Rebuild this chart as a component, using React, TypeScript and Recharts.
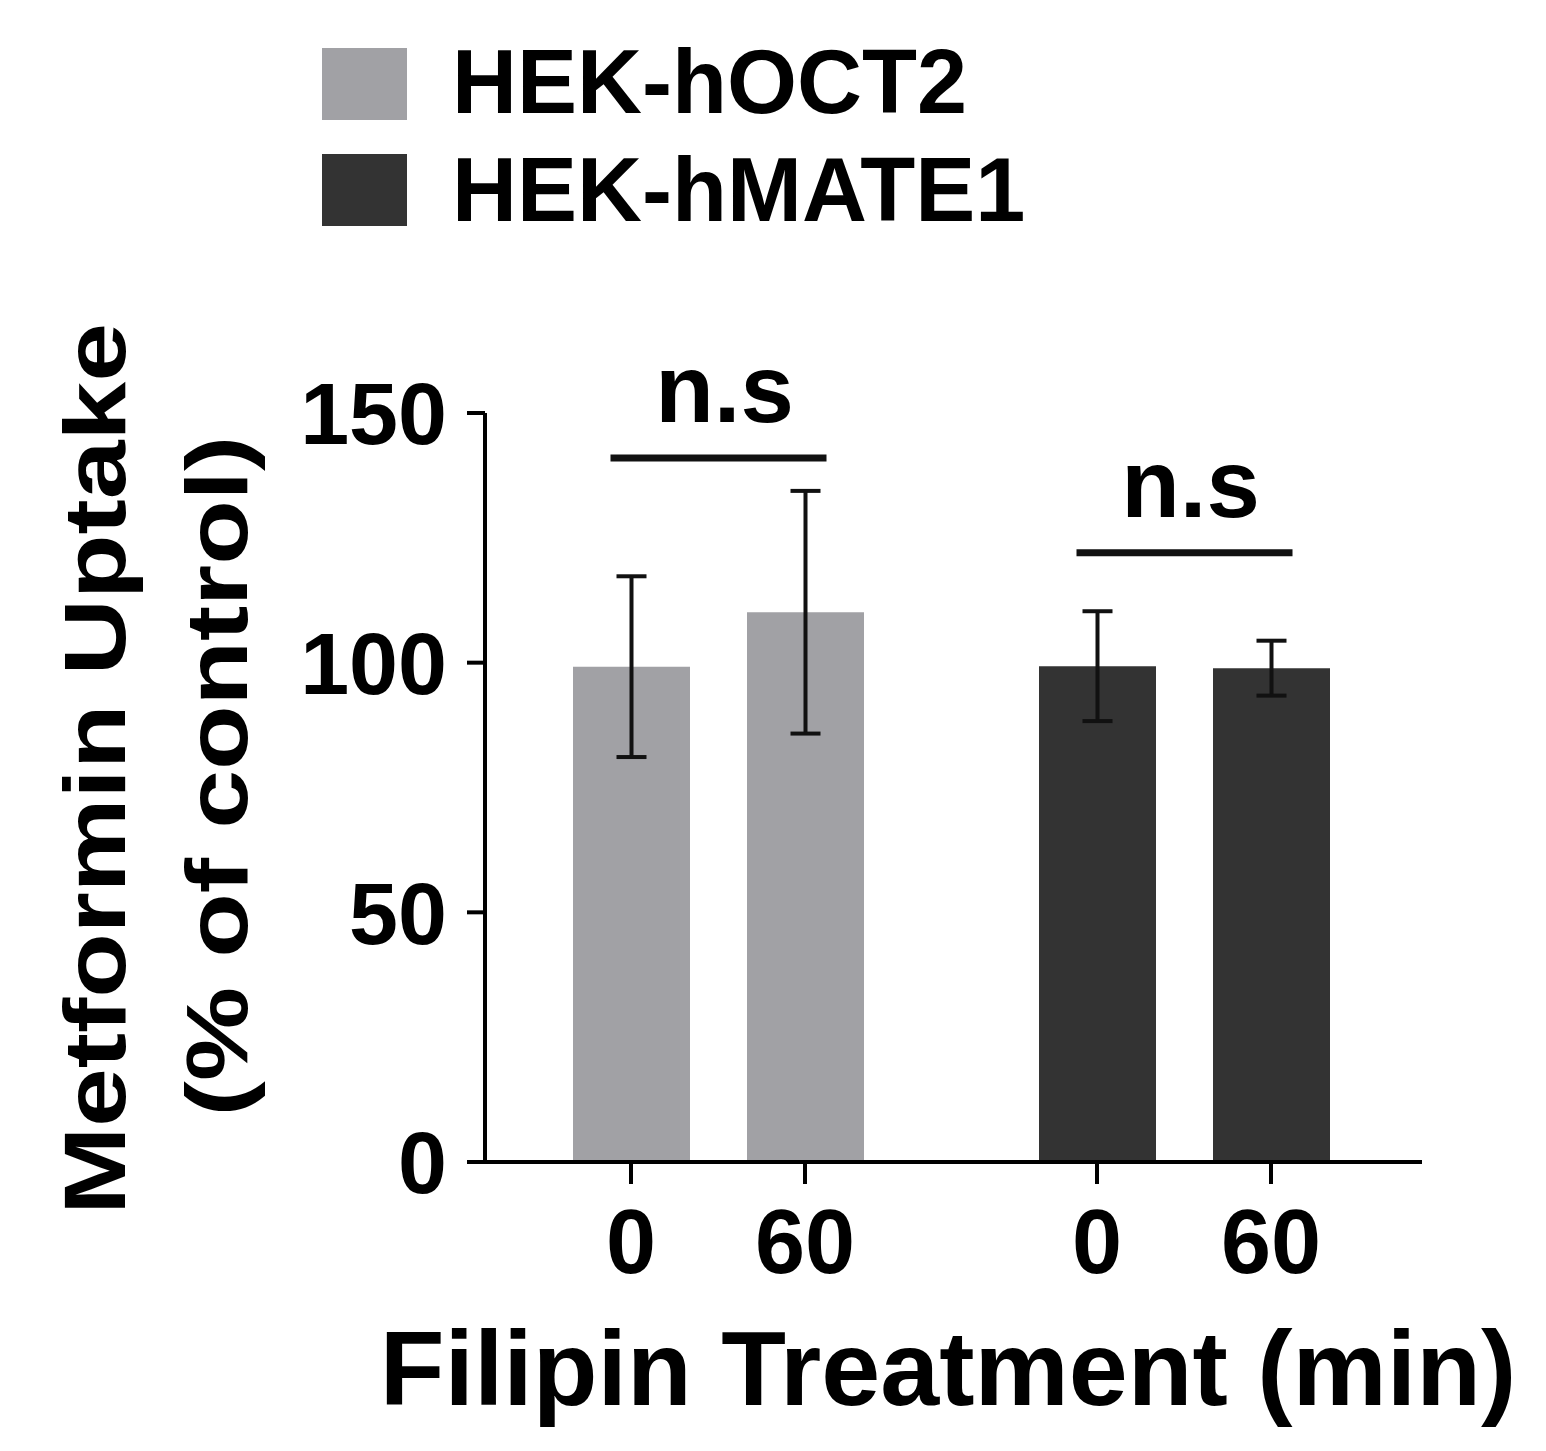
import React from 'react';
import { BarChart, Bar, XAxis, YAxis, ErrorBar, Cell, Legend } from 'recharts';

// cell lines (groups) and filipin time points (series)
const cellLines = ['HEK-hOCT2', 'HEK-hMATE1'];
const timePoints = ['0', '60'];
const uptake0 = [99.2, 99.3];
const uptake60 = [110.1, 98.9];
const err0 = [18.1, 11.0];
const err60 = [24.3, 5.5];
const lineColors = ['#a1a1a5', '#333333'];
const yTicks = [0, 50, 100, 150];
const sigLabels = ['n.s', 'n.s'];
const sigHeights = [141, 122];

const FONT = '"Liberation Sans", Arial, Helvetica, sans-serif';
const BAR_SIZE = 117;
const BAR_GAP = 57;
const SIG_HALF = 108;

const rows = cellLines.map((name, i) => ({
  name,
  t0: uptake0[i],
  t60: uptake60[i],
  e0: err0[i],
  e60: err60[i],
}));

const XTick = (props: any) => {
  const { x, y } = props;
  const off = (BAR_SIZE + BAR_GAP) / 2;
  return (
    <g>
      {timePoints.map((t, k) => {
        const tx = x + (k === 0 ? -off : off);
        return (
          <g key={k}>
            <line x1={tx} x2={tx} y1={y} y2={y + 22} stroke="#000" strokeWidth={4} />
            <text
              x={tx}
              y={y + 111}
              textAnchor="middle"
              fontFamily={FONT}
              fontWeight="bold"
              fontSize={90}
              fill="#000"
            >
              {t}
            </text>
          </g>
        );
      })}
    </g>
  );
};

const renderLegend = () => (
  <svg width={1546} height={250} style={{ display: 'block' }}>
    {cellLines.map((name, i) => (
      <g key={name}>
        <rect x={322} y={48 + i * 106} width={85} height={72} fill={lineColors[i]} />
        <text
          x={452}
          y={113 + i * 108}
          fontFamily={FONT}
          fontWeight="bold"
          fontSize={90}
          fill="#000"
        >
          {name}
        </text>
      </g>
    ))}
  </svg>
);

// significance bracket drawn over each group, placed from the 60 min bar geometry
const renderSig = (p: any) => {
  const { x, y, width, height, index } = p;
  const v = uptake60[index];
  if (!v || height == null) return null;
  const base = y + height;
  const yPx = base - (sigHeights[index] / v) * height;
  const cx = x - BAR_GAP / 2;
  return (
    <g key={`sig-${index}`}>
      <line x1={cx - SIG_HALF} x2={cx + SIG_HALF} y1={yPx} y2={yPx} stroke="#111" strokeWidth={7} />
      <text
        x={cx + 6}
        y={yPx - 36}
        textAnchor="middle"
        fontFamily={FONT}
        fontWeight="bold"
        fontSize={96}
        fill="#000"
      >
        {sigLabels[index]}
      </text>
    </g>
  );
};

export default function App() {
  return (
    <div style={{ position: 'absolute', left: 0, top: 0, width: 1546, height: 1451, background: '#fff' }}>
      <BarChart
        width={1546}
        height={1451}
        data={rows}
        barGap={BAR_GAP}
        margin={{ top: 413, right: 124, bottom: 0, left: 335 }}
      >
        <XAxis
          dataKey="name"
          height={289}
          padding={{ left: 0, right: 5 }}
          tickSize={0}
          tickMargin={0}
          tickLine={false}
          axisLine={{ stroke: '#000', strokeWidth: 4 }}
          tick={<XTick />}
          interval={0}
        />
        <YAxis
          domain={[0, 150]}
          ticks={yTicks}
          width={150}
          tickSize={18}
          tickMargin={20}
          axisLine={{ stroke: '#000', strokeWidth: 4 }}
          tickLine={{ stroke: '#000', strokeWidth: 4 }}
          tick={{ fontFamily: FONT, fontWeight: 'bold', fontSize: 88, fill: '#000' }}
        />
        <Legend
          layout="vertical"
          align="center"
          verticalAlign="middle"
          wrapperStyle={{ left: 0, top: 0, width: 1546, height: 250 }}
          content={renderLegend}
        />
        <Bar dataKey="t0" name="0 min" barSize={BAR_SIZE} isAnimationActive={false}>
          {rows.map((r, i) => (
            <Cell key={r.name} fill={lineColors[i]} />
          ))}
          <ErrorBar dataKey="e0" width={15} strokeWidth={4} stroke="#111" direction="y" />
        </Bar>
        <Bar dataKey="t60" name="60 min" barSize={BAR_SIZE} isAnimationActive={false} label={renderSig}>
          {rows.map((r, i) => (
            <Cell key={r.name} fill={lineColors[i]} />
          ))}
          <ErrorBar dataKey="e60" width={15} strokeWidth={4} stroke="#111" direction="y" />
        </Bar>
      </BarChart>
      <svg
        width={1546}
        height={1451}
        style={{ position: 'absolute', left: 0, top: 0, pointerEvents: 'none' }}
      >
        <g fontFamily={FONT} fontWeight="bold" fill="#000" textAnchor="middle">
          <text transform="translate(125,769) rotate(-90) scale(1.2,1)" fontSize={88}>
            Metformin Uptake
          </text>
          <text transform="translate(247,776) rotate(-90) scale(1.2,1)" fontSize={88}>
            (% of control)
          </text>
          <text x={948} y={1405} fontSize={106}>
            Filipin Treatment (min)
          </text>
        </g>
      </svg>
    </div>
  );
}
